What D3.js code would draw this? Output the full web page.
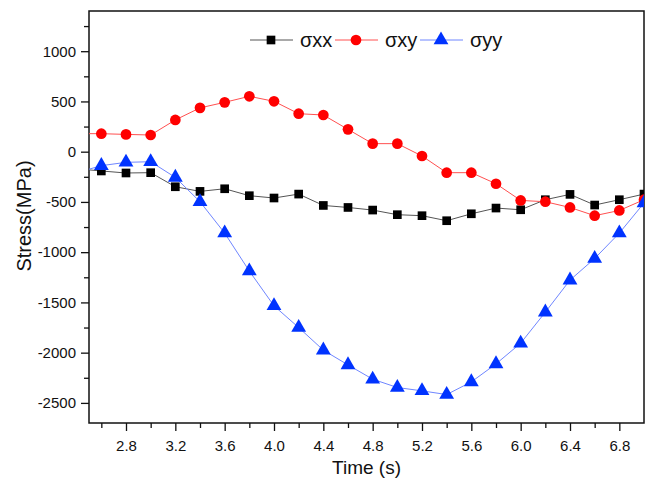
<html>
<head>
<script src="https://d3js.org/d3.v7.min.js"></script>
<style>
  body { margin: 0; background: #fff; }
  text { font-family: Arial, "Liberation Sans", sans-serif; }
</style>
</head>
<body>
<svg id="chart" width="649" height="478"></svg>
<script>
// time points (s); 2.4 is outside the frame and gets clipped
const time = [2.4, 2.6, 2.8, 3.0, 3.2, 3.4, 3.6, 3.8, 4.0, 4.2, 4.4, 4.6, 4.8, 5.0, 5.2, 5.4, 5.6, 5.8, 6.0, 6.2, 6.4, 6.6, 6.8, 7.0];
const sxx = [-170, -192, -212, -209, -349, -395, -369, -438, -461, -422, -535, -555, -581, -627, -637, -687, -618, -561, -578, -478, -425, -531, -478, -422];
const sxy = [180, 179, 172, 166, 316, 436, 491, 551, 501, 378, 365, 222, 80, 80, -43, -209, -209, -319, -485, -498, -555, -637, -585, -478];
const syy = [-210, -139, -106, -100, -256, -498, -810, -1188, -1534, -1750, -1975, -2122, -2264, -2347, -2380, -2417, -2291, -2112, -1906, -1597, -1278, -1063, -810, -511];

const xTicks = [2.8, 3.2, 3.6, 4.0, 4.4, 4.8, 5.2, 5.6, 6.0, 6.4, 6.8];
const yTicks = [-2500, -2000, -1500, -1000, -500, 0, 500, 1000];

const svg = d3.select("#chart");
const margin = { top: 11, right: 5, bottom: 55, left: 89 };
const w = 649 - margin.left - margin.right;
const h = 478 - margin.top - margin.bottom;

const x = d3.scaleLinear().domain([2.5, 7.0]).range([0, w]);
const y = d3.scaleLinear().domain([-2700, 1400]).range([h, 0]);

const g = svg.append("g").attr("transform", `translate(${margin.left},${margin.top})`);

svg.append("defs").append("clipPath").attr("id", "clip")
  .append("rect").attr("width", w).attr("height", h);

// minor ticks
g.append("g").attr("transform", `translate(0,${h})`)
  .call(d3.axisBottom(x).tickValues(d3.range(2.6, 7.0, 0.4)).tickSize(5).tickFormat(""))
  .call(a => a.select(".domain").remove());
g.append("g")
  .call(d3.axisLeft(y).tickValues(d3.range(-2250, 1400, 500)).tickSize(5).tickFormat(""))
  .call(a => a.select(".domain").remove());

// major ticks
const xAxis = g.append("g").attr("transform", `translate(0,${h})`)
  .call(d3.axisBottom(x).tickValues(xTicks).tickSize(8).tickPadding(9).tickFormat(d3.format(".1f")));
xAxis.select(".domain").remove();
xAxis.selectAll("text").attr("font-size", 15).attr("fill", "#111");

const yAxis = g.append("g")
  .call(d3.axisLeft(y).tickValues(yTicks).tickSize(8).tickPadding(5).tickFormat(d => String(d)));
yAxis.select(".domain").remove();
yAxis.selectAll("text").attr("font-size", 15).attr("fill", "#111");

g.selectAll(".tick line").attr("stroke", "#111").attr("stroke-width", 1.3);

// frame
g.append("rect").attr("width", w).attr("height", h)
  .attr("fill", "none").attr("stroke", "#111").attr("stroke-width", 1.5);

const series = [
  { name: "σxx", vals: sxx, line: "#555", fill: "#000", shape: d3.symbolSquare, size: 75 },
  { name: "σxy", vals: sxy, line: "#ff5050", fill: "#ff0000", shape: d3.symbolCircle, size: 90 },
  { name: "σyy", vals: syy, line: "#6f86ff", fill: "#0033ff", shape: d3.symbolTriangle, size: 95 }
];

const plot = g.append("g").attr("clip-path", "url(#clip)");
const line = d3.line().x(d => x(d[0])).y(d => y(d[1]));

series.forEach(s => {
  const pts = time.map((t, i) => [t, s.vals[i]]);
  plot.append("path").datum(pts)
    .attr("fill", "none").attr("stroke", s.line).attr("stroke-width", 1)
    .attr("d", line);
  plot.selectAll(null).data(pts).join("path")
    .attr("transform", d => `translate(${x(d[0])},${y(d[1])})`)
    .attr("d", d3.symbol().type(s.shape).size(s.size))
    .attr("fill", s.fill);
});

// legend
const legX = [250, 335, 420];
series.forEach((s, i) => {
  const lg = svg.append("g").attr("transform", `translate(${legX[i]},40)`);
  lg.append("line").attr("x1", 0).attr("x2", 43).attr("stroke", s.line).attr("stroke-width", 1);
  lg.append("path").attr("transform", "translate(21,0)")
    .attr("d", d3.symbol().type(s.shape).size(s.size)).attr("fill", s.fill);
  lg.append("text").attr("x", 50).attr("y", 7).attr("font-size", 20).attr("fill", "#111").text(s.name);
});

// axis titles
svg.append("text").attr("x", margin.left + w / 2).attr("y", 474)
  .attr("text-anchor", "middle").attr("font-size", 19).attr("fill", "#111").text("Time (s)");
svg.append("text").attr("transform", "translate(31,216) rotate(-90)")
  .attr("text-anchor", "middle").attr("font-size", 20).attr("fill", "#111").text("Stress(MPa)");
</script>
</body>
</html>
